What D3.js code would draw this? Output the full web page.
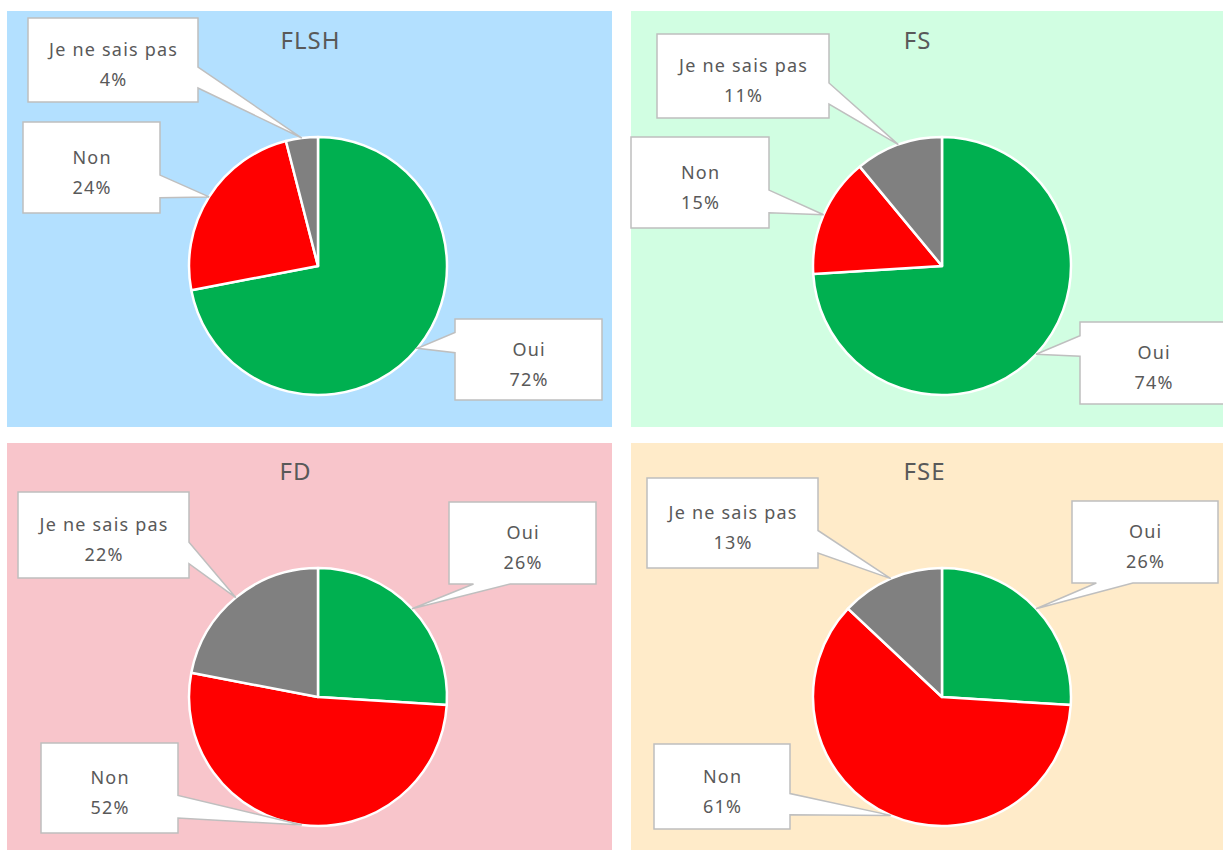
<!DOCTYPE html>
<html><head><meta charset="utf-8">
<script src="https://cdn.jsdelivr.net/npm/d3@7"></script>
<style>
html,body{margin:0;padding:0;background:#fff;}
svg{display:block;font-family:"Noto Sans",sans-serif;}
</style></head>
<body>
<svg id="chart" width="1223" height="850"></svg>
<script>
// ---- data ----
const categories = ["Oui", "Non", "Je ne sais pas"];
const panelTitles = ["FLSH", "FS", "FD", "FSE"];
const valuesFLSH = [72, 24, 4];
const valuesFS = [74, 15, 11];
const valuesFD = [26, 52, 22];
const valuesFSE = [26, 61, 13];
const sliceColors = ["#00B050", "#FF0000", "#808080"];

// ---- layout ----
const panelRects = [[7, 11, 605, 416], [631, 11, 600, 416], [7, 443, 605, 410], [631, 443, 600, 410]];
const panelFills = ["#B3E0FF", "#D1FEE2", "#F8C5CB", "#FFEBC9"];
const pieCenters = [[318, 266], [942, 266], [318, 697], [942, 697]];
const titlePos = [[310, 49], [917, 49], [295, 480], [924, 480]];
const radius = 129;
// label boxes [x, y, w, h] per panel, in category order
const boxes = [
  [[455, 319, 147, 81], [23, 122, 137, 91], [28, 18, 170, 84]],
  [[1080, 322, 147, 82], [631, 137, 138, 91], [657, 34, 172, 84]],
  [[449, 502, 147, 82], [41, 743, 137, 90], [18, 492, 171, 86]],
  [[1072, 501, 146, 82], [654, 744, 136, 85], [647, 478, 171, 90]]
];

const allValues = [valuesFLSH, valuesFS, valuesFD, valuesFSE];
const svg = d3.select("#chart");
const pie = d3.pie().sort(null).value(d => d.v);
const arc = d3.arc().innerRadius(0).outerRadius(radius);

// wedge rectangle callout (OOXML wedgeRectCallout geometry)
function calloutPath(b, tip) {
  const [l, t, w, h] = b;
  const r = l + w, btm = t + h, hc = l + w / 2, vc = t + h / 2;
  const dx = tip[0] - hc, dy = tip[1] - vc;
  const dq = dx * h / w;
  const dz = Math.abs(dy) - Math.abs(dq);
  const x1 = l + w * (dx > 0 ? 7 : 2) / 12, x2 = l + w * (dx > 0 ? 10 : 5) / 12;
  const y1 = t + h * (dy > 0 ? 7 : 2) / 12, y2 = t + h * (dy > 0 ? 10 : 5) / 12;
  const p = d3.path();
  p.moveTo(l, t);
  if (dz > 0 && dy < 0) { p.lineTo(x1, t); p.lineTo(tip[0], tip[1]); p.lineTo(x2, t); }
  p.lineTo(r, t);
  if (dz <= 0 && dx > 0) { p.lineTo(r, y1); p.lineTo(tip[0], tip[1]); p.lineTo(r, y2); }
  p.lineTo(r, btm);
  if (dz > 0 && dy > 0) { p.lineTo(x2, btm); p.lineTo(tip[0], tip[1]); p.lineTo(x1, btm); }
  p.lineTo(l, btm);
  if (dz <= 0 && dx < 0) { p.lineTo(l, y2); p.lineTo(tip[0], tip[1]); p.lineTo(l, y1); }
  p.closePath();
  return p.toString();
}

panelTitles.forEach((title, i) => {
  const [px, py, pw, ph] = panelRects[i];
  const g = svg.append("g");
  g.append("rect").attr("x", px).attr("y", py).attr("width", pw).attr("height", ph)
    .attr("fill", panelFills[i]);
  g.append("text").attr("x", titlePos[i][0] + 0.5).attr("y", titlePos[i][1])
    .attr("text-anchor", "middle").attr("font-size", 24).attr("letter-spacing", 1)
    .attr("fill", "#595959")
    .text(title);

  const data = categories.map((c, k) => ({ c, v: allValues[i][k], k }));
  const arcs = pie(data);
  const [cx, cy] = pieCenters[i];
  const pg = g.append("g").attr("transform", `translate(${cx},${cy})`);
  pg.selectAll("path").data(arcs).join("path")
    .attr("d", arc).attr("fill", d => sliceColors[d.data.k])
    .attr("stroke", "#fff").attr("stroke-width", 2.5).attr("stroke-linejoin", "round");

  arcs.forEach(d => {
    const a = (d.startAngle + d.endAngle) / 2;
    const tip = [cx + radius * Math.sin(a), cy - radius * Math.cos(a)];
    const b = boxes[i][d.data.k];
    g.append("path").attr("d", calloutPath(b, tip))
      .attr("fill", "#fff").attr("stroke", "#BFBFBF").attr("stroke-width", 1.5);
    const tx = b[0] + b[2] / 2 + 0.6, ty = b[1] + b[3] / 2;
    const t = g.append("text").attr("text-anchor", "middle").attr("font-size", 18)
      .attr("letter-spacing", 1.2).attr("fill", "#595959");
    t.append("tspan").attr("x", tx).attr("y", ty - 4).text(d.data.c);
    t.append("tspan").attr("x", tx).attr("y", ty + 26).text(d.data.v + "%");
  });
});
</script>
</body></html>
